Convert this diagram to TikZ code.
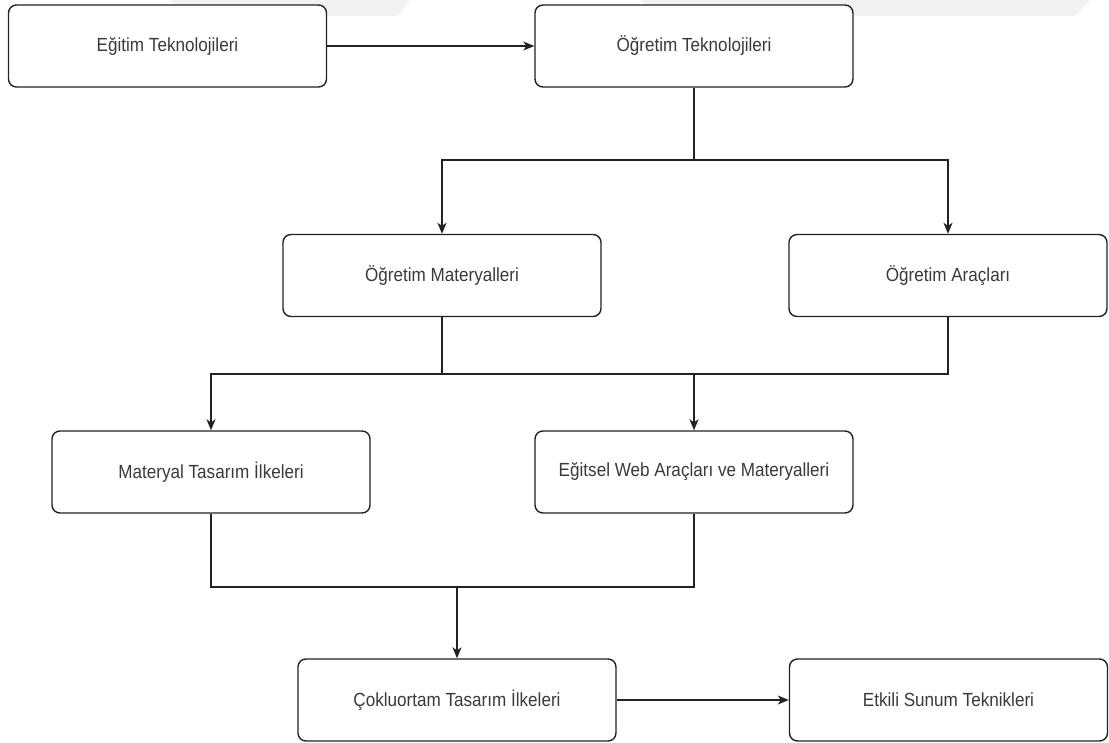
\documentclass[tikz,border=0pt]{standalone}
\usepackage{fontspec}
\setmainfont{Liberation Sans}[FakeStretch=0.9]
\usetikzlibrary{arrows.meta}
\definecolor{txt}{HTML}{3A3A3A}
\definecolor{ink}{HTML}{222222}
\begin{document}
\begin{tikzpicture}[x=1pt,y=-1pt,
  box/.style={draw=ink, line width=1.4pt, rounded corners=8pt, fill=white,
    minimum width=318pt, minimum height=82pt, inner sep=0pt,
    font=\fontsize{19}{22}\selectfont, text=txt},
  link/.style={draw=ink, line width=1.3pt},
  arr/.style={link, -{Stealth[length=11pt,width=9pt,inset=3pt]}}]
\useasboundingbox[fill=white] (0,0) rectangle (1109,743);
% faint background marks along the top edge
\fill[black!5] (170,0) -- (410,0) -- (398,16) -- (185,16) -- cycle;
\fill[black!5] (640,0) -- (1090,0) -- (1075,16) -- (655,16) -- cycle;

\node[box] (b1) at (167.5,46) {Eğitim Teknolojileri};
\node[box] (b2) at (694,46) {Öğretim Teknolojileri};
\node[box] (b3) at (442,275.5) {Öğretim Materyalleri};
\node[box] (b4) at (948,275.5) {Öğretim Araçları};
\node[box] (b5) at (211,472) {Materyal Tasarım İlkeleri};
\node[box] (b6) at (694,472) {Eğitsel Web Araçları ve Materyalleri};
\node[box] (b7) at (457,700) {Çokluortam Tasarım İlkeleri};
\node[box] (b8) at (948.5,700) {Etkili Sunum Teknikleri};

\coordinate (h1) at (694,160);
\coordinate (h2) at (211,374);
\coordinate (h3) at (211,587);

\draw[arr] (b1.east) -- (b2.west);

\draw[link] (b2.south) -- (h1);
\draw[arr] (h1) -| (b3.north);
\draw[arr] (h1) -| (b4.north);

\draw[arr] (b4.south) |- (h2) -- (b5.north);
\draw[link] (b3.south) -- (b3.south |- h2);
\draw[arr] (b6.north |- h2) -- (b6.north);

\draw[link] (b5.south) -- (h3) -| (b6.south);
\draw[arr] (b7.north |- h3) -- (b7.north);

\draw[arr] (b7.east) -- (b8.west);
\end{tikzpicture}
\end{document}
